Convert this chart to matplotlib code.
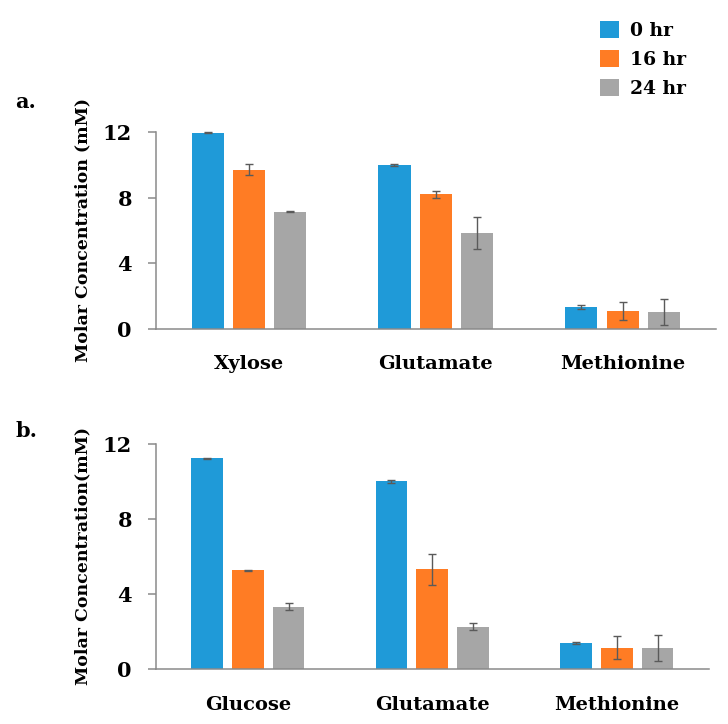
# Concentraciones molares a 0, 16 y 24 hr
import numpy as np
import matplotlib
matplotlib.use('Agg')
import matplotlib.pyplot as plt
from matplotlib.patches import Patch

plt.rcParams['font.family'] = ['DejaVu Serif']
plt.rcParams['font.weight'] = 'bold'

# Datos panel a
cat_a = ['Xylose', 'Glutamate', 'Methionine']
hr0_a = [11.95, 10.0, 1.32]
hr0_a_err = [0.04, 0.05, 0.12]
hr16_a = [9.7, 8.2, 1.12]
hr16_a_err = [0.32, 0.22, 0.55]
hr24_a = [7.15, 5.85, 1.02]
hr24_a_err = [0.04, 0.95, 0.8]

# Datos panel b
cat_b = ['Glucose', 'Glutamate', 'Methionine']
hr0_b = [11.25, 10.0, 1.36]
hr0_b_err = [0.03, 0.07, 0.05]
hr16_b = [5.26, 5.3, 1.12]
hr16_b_err = [0.03, 0.83, 0.62]
hr24_b = [3.31, 2.24, 1.12]
hr24_b_err = [0.18, 0.18, 0.7]

series = ['0 hr', '16 hr', '24 hr']
colores = ['#1f9ad8', '#ff7c24', '#a6a6a6']
gris_eje = '#8a8a8a'

fig = plt.figure(figsize=(7.28, 7.24), dpi=100)
ax_a = fig.add_axes([0.2136, 0.5456, 0.770, 0.2721])
ax_b = fig.add_axes([0.2136, 0.0764, 0.7603, 0.3103])


def panel(ax, cats, vals, errs, ylabel, pad_x):
    x = np.arange(len(cats))
    w = 0.172
    for i, (v, e) in enumerate(zip(vals, errs)):
        ax.bar(x + (i - 1) * 0.221, v, width=w, color=colores[i],
               yerr=e, capsize=3,
               error_kw=dict(ecolor='#5a5a5a', elinewidth=1, capthick=1, clip_on=False))
    ax.set_xlim(-0.5, len(cats) - 0.5)
    ax.set_ylim(0, 12)
    ax.set_yticks([0, 4, 8, 12])
    ax.set_xticks(x)
    ax.set_xticklabels(cats, fontsize=14, fontweight='bold')
    ax.tick_params(axis='x', length=0, pad=pad_x)
    ax.tick_params(axis='y', length=6, width=1.1, color=gris_eje, pad=11, labelsize=15)
    for s in ['top', 'right']:
        ax.spines[s].set_visible(False)
    for s in ['left', 'bottom']:
        ax.spines[s].set_color(gris_eje)
        ax.spines[s].set_linewidth(1.1)
    ax.set_ylabel(ylabel, fontsize=12.5, fontweight='bold', labelpad=8)


panel(ax_a, cat_a, [hr0_a, hr16_a, hr24_a], [hr0_a_err, hr16_a_err, hr24_a_err],
      'Molar Concentration (mM)', 19)
panel(ax_b, cat_b, [hr0_b, hr16_b, hr24_b], [hr0_b_err, hr16_b_err, hr24_b_err],
      'Molar Concentration(mM)', 20)

fig.text(15 / 728, 1 - 108 / 724, 'a.', fontsize=15, fontweight='bold')
fig.text(15 / 728, 1 - 437 / 724, 'b.', fontsize=15, fontweight='bold')

# Leyenda
handles = [Patch(facecolor=c, edgecolor='none') for c in colores]
fig.legend(handles, series, loc='upper left', bbox_to_anchor=(600 / 728, 1 - 21 / 724),
           frameon=False, handlelength=1.0, handleheight=1.0,
           handletextpad=0.6, labelspacing=0.55, borderpad=0, borderaxespad=0,
           prop=dict(family='DejaVu Serif', weight='bold', size=13.5))

fig.savefig('out.png', dpi=100)
